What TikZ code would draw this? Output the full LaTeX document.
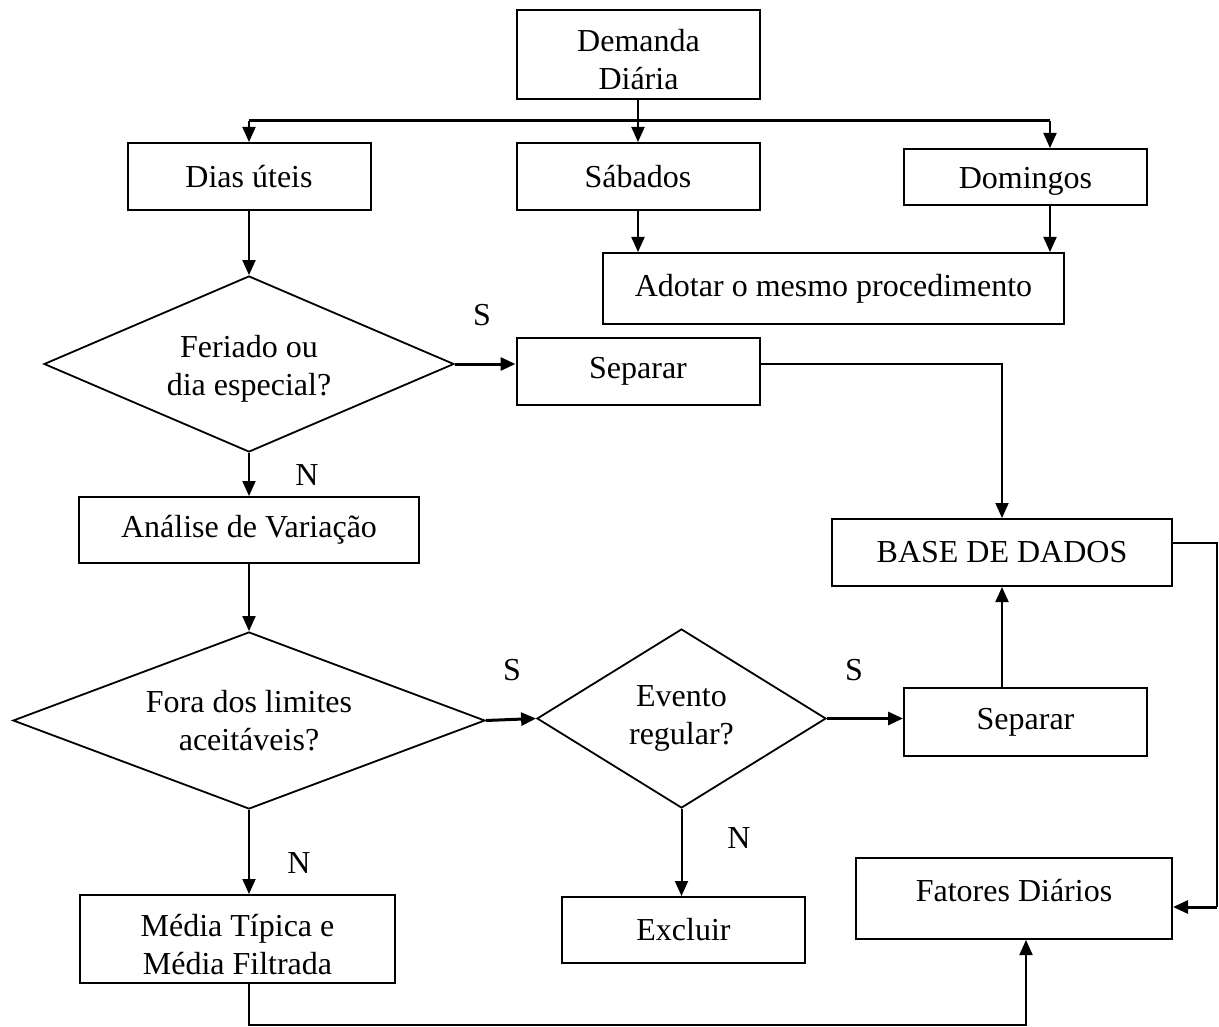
\documentclass[tikz,border=0pt]{standalone}
\usepackage{fontspec}
\setmainfont{Liberation Serif}
\usetikzlibrary{arrows.meta,shapes.geometric}
\begin{document}
\begin{tikzpicture}[x=1pt,y=-1pt,
  font=\fontsize{32}{38}\selectfont,
  box/.style={draw,line width=2pt,rectangle,inner sep=0pt,align=center},
  dia/.style={draw,line width=1.8pt,diamond,inner sep=0pt,align=center},
  conn/.style={line width=2pt},
  arr/.style={line width=2pt,-{Triangle[length=15pt,width=13pt]}},
  tarr/.style={arr,line width=3pt},
  lab/.style={inner sep=0pt}]
\useasboundingbox (0,0) rectangle (1219,1027);
% nodes
\node[box,minimum width=243pt,minimum height=89pt,text height=70pt] (dem) at (638.5,54.5) {Demanda\\Diária};
\node[box,minimum width=243pt,minimum height=67pt] (dias) at (249,176.5) {Dias úteis};
\node[box,minimum width=243pt,minimum height=67pt] (sab) at (638,176.5) {Sábados};
\node[box,minimum width=243pt,minimum height=56pt,text height=29pt] (dom) at (1025.5,177) {Domingos};
\node[box,minimum width=461pt,minimum height=71pt] (ado) at (833.5,288.5) {Adotar o mesmo procedimento};
\node[dia,minimum width=410pt,minimum height=176pt,aspect=2.33,text height=70pt] (fer) at (249,364) {Feriado ou\\dia especial?};
\node[box,minimum width=243pt,minimum height=67pt] (sep1) at (638,371.5) {Separar};
\node[box,minimum width=340pt,minimum height=66pt] (ana) at (249,530) {Análise de Variação};
\node[box,minimum width=340pt,minimum height=67pt] (base) at (1002,552.5) {BASE DE DADOS};
\node[dia,minimum width=472pt,minimum height=177pt,aspect=2.67] (fora) at (249,720.5) {Fora dos limites\\aceitáveis?};
\node[dia,minimum width=289pt,minimum height=179pt,aspect=1.61] (evt) at (681.5,718.5) {Evento\\regular?};
\node[box,minimum width=243pt,minimum height=68pt] (sep2) at (1025.5,722) {Separar};
\node[box,minimum width=243pt,minimum height=66pt] (exc) at (683.5,930) {Excluir};
\node[box,minimum width=315pt,minimum height=88pt,text height=72pt] (med) at (237.5,939) {Média Típica e\\Média Filtrada};
\node[box,minimum width=316pt,minimum height=81pt,text depth=17pt] (fat) at (1014,898.5) {Fatores Diários};
% labels
\node[lab] (s1) at (482,315) {S};
\node[lab] (n1) at (307,475) {N};
\node[lab] (s2) at (512,670) {S};
\node[lab] (s3) at (854,670) {S};
\node[lab] (n2) at (739,838) {N};
\node[lab] (n3) at (299,863) {N};
% coordinates
\coordinate (jl) at (249,121);
\coordinate (jr) at (1050,121);
\coordinate (r1) at (1217,543);
\coordinate (r2) at (1217,907);
\coordinate (b1) at (249,1025);
\coordinate (b2) at (1026,1025);
% connectors
\draw[arr] (dem.south -| sab.north) -- (sab.north);
\draw[conn,line width=3pt] (jl) -- (jr);
\draw[arr] (jl) -- (jl |- dias.north);
\draw[arr] (jr) -- (jr |- dom.north);
\draw[arr] (sab.south) -- (sab.south |- ado.north);
\draw[arr] (jr |- dom.south) -- (jr |- ado.north);
\draw[arr] (dias.south) -- (fer.north);
\draw[tarr] (fer.east) -- (fer.east -| sep1.west);
\draw[arr] (fer.east -| sep1.east) -| (base.north);
\draw[arr] (fer.south) -- (ana.north);
\draw[arr] (ana.south) -- (fora.north);
\draw[tarr] (fora.east) -- (evt.west);
\draw[tarr] (evt.east) -- (evt.east -| sep2.west);
\draw[arr] (base.south |- sep2.north) -- (base.south);
\draw[arr] (evt.south) -- (evt.south |- exc.north);
\draw[arr] (fora.south) -- (fora.south |- med.north);
\draw[conn] (base.east |- r1) -- (r1) -- (r2);
\draw[tarr] (r2) -- (r2 -| fat.east);
\draw[arr] (b1 |- med.south) -- (b1) -- (b2) -- (b2 |- fat.south);
\end{tikzpicture}
\end{document}
